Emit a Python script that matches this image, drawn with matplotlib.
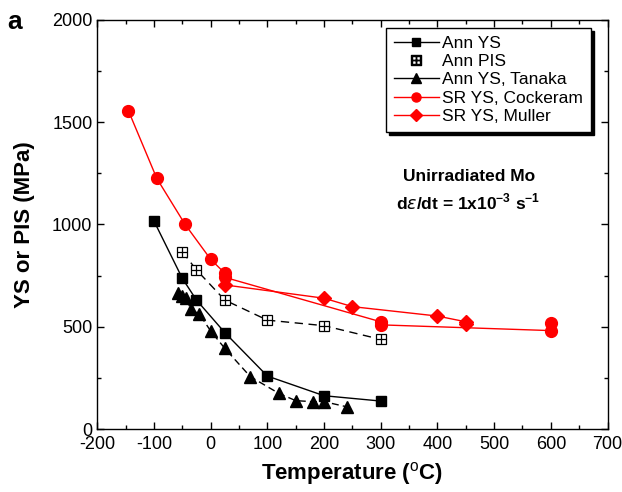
import numpy as np
import matplotlib
matplotlib.use("Agg")
import matplotlib.pyplot as plt
from matplotlib.lines import Line2D
from matplotlib.ticker import MultipleLocator

plt.rcParams['font.family'] = ['Liberation Sans', 'DejaVu Sans']
plt.rcParams['mathtext.fontset'] = 'custom'
plt.rcParams['mathtext.rm'] = 'Liberation Sans'
plt.rcParams['mathtext.bf'] = 'Liberation Sans:bold'
plt.rcParams['axes.unicode_minus'] = False

# Annealed YS (filled squares)
ann_ys_t = [-100, -50, -25, 25, 100, 200, 300]
ann_ys = [1017, 737, 631, 472, 260, 164, 138]

# Annealed PIS (open squares with cross)
ann_pis_t = [-50, -25, 25, 100, 200, 300]
ann_pis = [867, 778, 631, 533, 506, 439]

# Annealed YS, Tanaka (triangles)
tanaka_t = [-57, -50, -43, -35, -20, 0, 25, 70, 120, 150, 180, 200, 240]
tanaka_ys = [665, 652, 640, 585, 563, 480, 395, 257, 176, 140, 135, 135, 110]

# Stress relieved YS, Cockeram (circles)
cock_t = [-145, -95, -45, 0, 25, 25, 300, 300, 600, 600]
cock_ys = [1555, 1225, 1000, 830, 762, 742, 525, 510, 482, 520]

# Stress relieved YS, Muller (diamonds)
mull_t = [25, 200, 250, 400, 450, 450]
mull_ys = [705, 640, 599, 553, 525, 515]

fig = plt.figure(figsize=(6.22, 4.92), dpi=100)
ax = fig.add_axes([0.1564, 0.1274, 0.8203, 0.8326])

ax.plot(ann_ys_t, ann_ys, '-', color='black', lw=1.0, marker='s', ms=7.5,
        mfc='black', mec='black', zorder=3)
ax.plot(ann_pis_t, ann_pis, '--', color='black', lw=1.0, dashes=(6, 4), zorder=2)
ax.plot(ann_pis_t, ann_pis, 's', ms=7.5, mfc='white', mec='black', mew=0.9, zorder=4)
ax.plot(ann_pis_t, ann_pis, '+', ms=7.5, color='black', mew=0.9, zorder=5)
ax.plot(tanaka_t, tanaka_ys, '--', color='black', lw=1.0, dashes=(5, 3),
        marker='^', ms=9, mfc='black', mec='black', zorder=3)
ax.plot(cock_t, cock_ys, '-', color='red', lw=1.0, marker='o', ms=8.5,
        mfc='red', mec='red', zorder=3)
ax.plot(mull_t, mull_ys, '-', color='red', lw=1.0, marker='D', ms=7.5,
        mfc='red', mec='red', zorder=3)

ax.set_xlim(-200, 700)
ax.set_ylim(0, 2000)
ax.xaxis.set_major_locator(MultipleLocator(100))
ax.xaxis.set_minor_locator(MultipleLocator(50))
ax.yaxis.set_major_locator(MultipleLocator(500))
ax.yaxis.set_minor_locator(MultipleLocator(250))
ax.tick_params(which='both', direction='in', top=True, right=True, labelsize=13)
ax.tick_params(which='major', length=5, width=1)
ax.tick_params(which='minor', length=3, width=1)
ax.tick_params(axis='x', pad=5)
for s in ax.spines.values():
    s.set_linewidth(1.0)

ax.set_xlabel(r'Temperature ($^{\mathrm{o}}$C)', fontsize=16, fontweight='bold', labelpad=5)
ax.set_ylabel('YS or PIS (MPa)', fontsize=16, fontweight='bold', labelpad=12)

ax.text(455, 1234, 'Unirradiated Mo', ha='center', va='center',
        fontsize=12.5, fontweight='bold')
ax.text(455, 1111, r'd$\varepsilon$/dt = 1x10$^{\mathbf{-3}}$ s$^{\mathbf{-1}}$',
        ha='center', va='center', fontsize=12.5, fontweight='bold')

fig.text(0.012, 0.955, 'a', fontsize=19, fontweight='bold', va='center')

handles = [
    Line2D([], [], color='black', lw=1.0, marker='s', ms=6, mfc='black'),
    Line2D([], [], color='none', marker='$\\boxplus$', ms=7, mec='black', mfc='black'),
    Line2D([], [], color='black', lw=1.0, marker='^', ms=7, mfc='black'),
    Line2D([], [], color='red', lw=1.0, marker='o', ms=6.5, mfc='red', mec='red'),
    Line2D([], [], color='red', lw=1.0, marker='D', ms=6, mfc='red', mec='red'),
]
labels = ['Ann YS', 'Ann PIS', 'Ann YS, Tanaka', 'SR YS, Cockeram', 'SR YS, Muller']
leg = ax.legend(handles, labels, loc='upper right', bbox_to_anchor=(0.968, 0.98),
                borderaxespad=0, fontsize=12.5, frameon=True, fancybox=False,
                edgecolor='black', shadow={'color': 'black', 'alpha': 1},
                handlelength=2.6, labelspacing=0.18, borderpad=0.45,
                handletextpad=0.2)
leg.get_frame().set_linewidth(1.0)

fig.savefig('out.png', dpi=100)
